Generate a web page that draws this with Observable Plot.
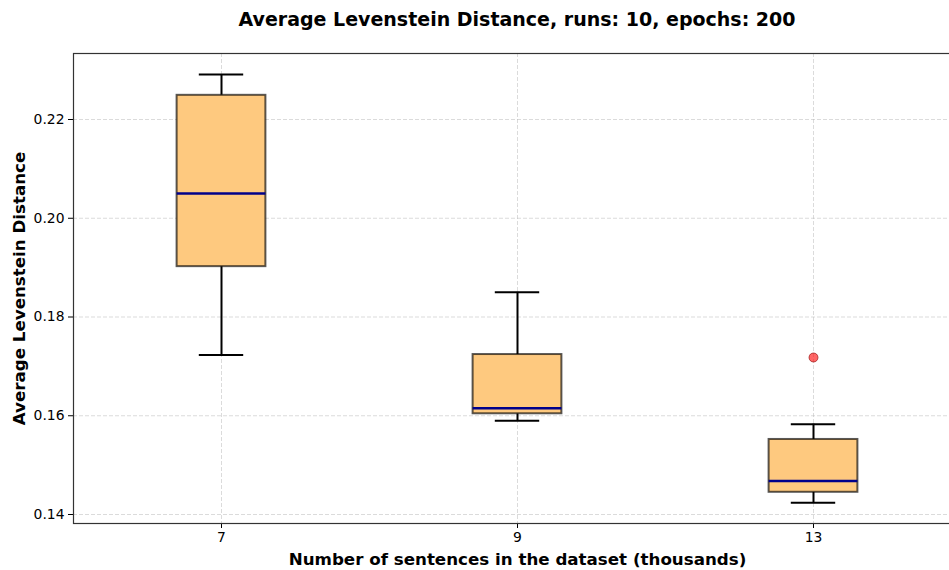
<!DOCTYPE html>
<html>
<head>
<meta charset="utf-8">
<script src="https://cdn.jsdelivr.net/npm/d3@7"></script>
<script src="https://cdn.jsdelivr.net/npm/@observablehq/plot@0.6"></script>
<style>
  html, body { margin: 0; padding: 0; background: #fff; overflow: hidden; }
  #wrap { width: 949px; height: 570px; overflow: hidden; position: relative; }
  #title {
    position: absolute; left: 73px; width: 888px; top: 8px;
    text-align: center; font: bold 19px "DejaVu Sans", sans-serif; color: #000;
  }
  #chart { position: absolute; left: 0; top: 40px; }
  #chart svg { font-family: "DejaVu Sans", sans-serif; max-width: none !important; }
</style>
</head>
<body>
<div id="wrap">
  <div id="title">Average Levenstein Distance, runs: 10, epochs: 200</div>
  <div id="chart"></div>
</div>
<script>
// Dataset sizes (thousands of sentences) and box-plot summaries per size
const categories   = ["7", "9", "13"];
const lowerWhisker = [0.1723, 0.1590, 0.1424];
const q1           = [0.1902, 0.1604, 0.1445];
const median       = [0.2050, 0.1615, 0.1468];
const q3           = [0.2249, 0.1724, 0.1552];
const upperWhisker = [0.2291, 0.1850, 0.1583];
const outliers     = [[], [], [0.1718]];
const yTicks       = [0.14, 0.16, 0.18, 0.20, 0.22];

const boxes = categories.map((c, i) => ({
  pos: i + 1, label: c,
  lo: lowerWhisker[i], q1: q1[i], med: median[i], q3: q3[i], hi: upperWhisker[i]
}));
const fliers = outliers.flatMap((vals, i) => vals.map(v => ({pos: i + 1, v})));

const halfBox = 0.15, halfCap = 0.075;

const plot = Plot.plot({
  width: 975,
  height: 530,
  marginLeft: 73,
  marginRight: 14,
  marginTop: 13,
  marginBottom: 47,
  x: {type: "linear", domain: [0.5, 3.5]},
  y: {domain: [0.13818, 0.23337]},
  style: {fontFamily: "DejaVu Sans, sans-serif", fontSize: "13.9px", color: "#000", maxWidth: "none"},
  marks: [
    // dashed light grid
    Plot.gridX(boxes.map(d => d.pos), {stroke: "#b8b8b8", strokeOpacity: 0.5, strokeDasharray: "4,2"}),
    Plot.gridY(yTicks, {stroke: "#b8b8b8", strokeOpacity: 0.5, strokeDasharray: "4,2"}),
    // whiskers
    Plot.ruleX(boxes, {x: "pos", y1: "lo", y2: "q1", stroke: "#000", strokeWidth: 2}),
    Plot.ruleX(boxes, {x: "pos", y1: "q3", y2: "hi", stroke: "#000", strokeWidth: 2}),
    // whisker caps
    Plot.ruleY(boxes, {y: "lo", x1: d => d.pos - halfCap, x2: d => d.pos + halfCap, stroke: "#000", strokeWidth: 2}),
    Plot.ruleY(boxes, {y: "hi", x1: d => d.pos - halfCap, x2: d => d.pos + halfCap, stroke: "#000", strokeWidth: 2}),
    // boxes
    Plot.rect(boxes, {
      x1: d => d.pos - halfBox, x2: d => d.pos + halfBox, y1: "q1", y2: "q3",
      fill: "#fec97f", stroke: "#000", strokeOpacity: 0.65, strokeWidth: 2
    }),
    // medians
    Plot.ruleY(boxes, {y: "med", x1: d => d.pos - halfBox, x2: d => d.pos + halfBox, stroke: "#00008b", strokeWidth: 2.5}),
    // outliers
    Plot.dot(fliers, {x: "pos", y: "v", r: 4.5, fill: "#ff0000", fillOpacity: 0.6, stroke: "#8b0000", strokeOpacity: 0.6, strokeWidth: 1}),
    // axes
    Plot.axisX(boxes.map(d => d.pos), {
      tickFormat: p => categories[p - 1], tickSize: 5, tickPadding: 4, fontSize: 13.9, label: null, stroke: "#000"
    }),
    Plot.axisY(yTicks, {
      tickFormat: d3.format(".2f"), tickSize: 5, tickPadding: 4, fontSize: 13.9, label: null, stroke: "#000"
    }),
    Plot.frame({stroke: "#333", strokeWidth: 1.2}),
    // axis titles
    Plot.text(["Number of sentences in the dataset (thousands)"], {
      frameAnchor: "bottom", lineAnchor: "middle", textAnchor: "middle", dy: 36,
      fontSize: 16.7, fontWeight: "bold", fill: "#000"
    }),
    Plot.text(["Average Levenstein Distance"], {
      frameAnchor: "left", lineAnchor: "middle", textAnchor: "middle", dx: -54, rotate: -90,
      fontSize: 16.7, fontWeight: "bold", fill: "#000"
    })
  ]
});
document.getElementById("chart").appendChild(plot);
</script>
</body>
</html>
